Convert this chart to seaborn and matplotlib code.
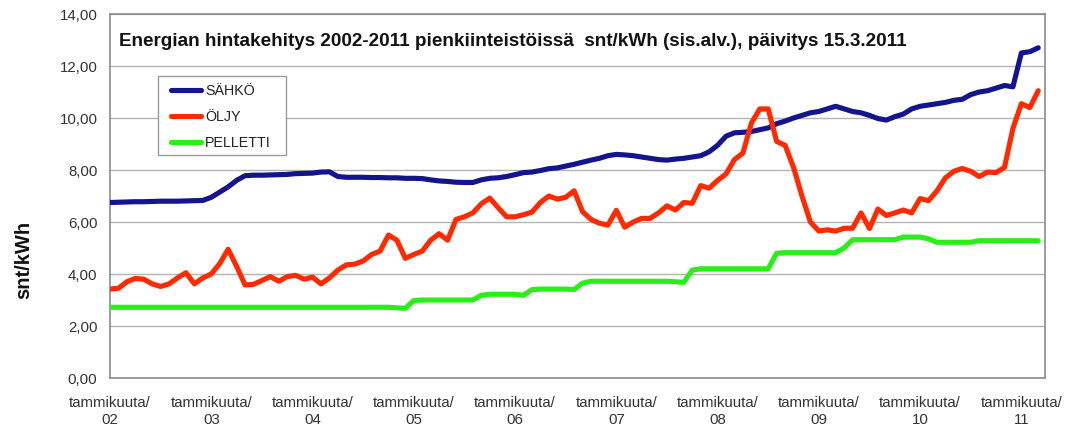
import numpy as np
import pandas as pd
import matplotlib
matplotlib.use("Agg")
import matplotlib.pyplot as plt
from matplotlib.lines import Line2D
from matplotlib.patches import Rectangle
import seaborn as sns

# ---- data (monthly, Jan 2002 .. Mar 2011) ----
sahko = [6.75, 6.76, 6.77, 6.78, 6.78, 6.79, 6.80, 6.80, 6.80, 6.81, 6.82, 6.83,
         6.95, 7.15, 7.35, 7.60, 7.78, 7.80, 7.80, 7.81, 7.82, 7.83, 7.86, 7.87,
         7.88, 7.92, 7.93, 7.75, 7.72, 7.72, 7.72, 7.71, 7.71, 7.70, 7.70, 7.68,
         7.68, 7.67, 7.62, 7.58, 7.56, 7.53, 7.52, 7.52, 7.62, 7.68, 7.70, 7.75,
         7.82, 7.90, 7.92, 7.98, 8.05, 8.08, 8.15, 8.22, 8.30, 8.38, 8.45, 8.55,
         8.60, 8.58, 8.55, 8.50, 8.45, 8.40, 8.38, 8.42, 8.45, 8.50, 8.55, 8.70,
         8.95, 9.30, 9.43, 9.45, 9.48, 9.55, 9.62, 9.78, 9.88, 10.00, 10.10, 10.20,
         10.25, 10.35, 10.45, 10.35, 10.25, 10.20, 10.10, 9.98, 9.92, 10.05, 10.15, 10.35,
         10.45, 10.50, 10.55, 10.60, 10.68, 10.72, 10.90, 11.00, 11.05, 11.15, 11.25, 11.20,
         12.50, 12.55, 12.70]
oljy = [3.42, 3.45, 3.70, 3.83, 3.80, 3.62, 3.52, 3.62, 3.85, 4.05, 3.62, 3.85,
        4.00, 4.40, 4.95, 4.30, 3.58, 3.60, 3.75, 3.90, 3.72, 3.90, 3.95, 3.80,
        3.88, 3.62, 3.85, 4.15, 4.35, 4.38, 4.50, 4.75, 4.88, 5.50, 5.30, 4.60,
        4.75, 4.88, 5.30, 5.55, 5.30, 6.10, 6.20, 6.35, 6.70, 6.92, 6.55, 6.20,
        6.20, 6.28, 6.38, 6.75, 7.00, 6.88, 6.95, 7.20, 6.40, 6.10, 5.95, 5.88,
        6.45, 5.80, 6.00, 6.14, 6.14, 6.35, 6.62, 6.46, 6.75, 6.72, 7.40, 7.30,
        7.60, 7.85, 8.40, 8.65, 9.80, 10.35, 10.35, 9.10, 8.95, 8.10, 7.00, 6.00,
        5.65, 5.70, 5.65, 5.76, 5.76, 6.35, 5.75, 6.50, 6.25, 6.35, 6.46, 6.35,
        6.90, 6.82, 7.20, 7.70, 7.95, 8.06, 7.95, 7.75, 7.92, 7.90, 8.10, 9.60,
        10.55, 10.40, 11.05]
pelletti = [2.72, 2.72, 2.72, 2.72, 2.72, 2.72, 2.72, 2.72, 2.72, 2.72, 2.72, 2.72,
            2.72, 2.72, 2.72, 2.72, 2.72, 2.72, 2.72, 2.72, 2.72, 2.72, 2.72, 2.72,
            2.72, 2.72, 2.72, 2.72, 2.72, 2.72, 2.72, 2.72, 2.72, 2.72, 2.70, 2.68,
            2.98, 3.00, 3.00, 3.00, 3.00, 3.00, 3.00, 3.00, 3.18, 3.22, 3.22, 3.22,
            3.22, 3.18, 3.40, 3.42, 3.42, 3.42, 3.42, 3.40, 3.65, 3.72, 3.72, 3.72,
            3.72, 3.72, 3.72, 3.72, 3.72, 3.72, 3.72, 3.70, 3.68, 4.15, 4.20, 4.20,
            4.20, 4.20, 4.20, 4.20, 4.20, 4.20, 4.20, 4.80, 4.82, 4.82, 4.82, 4.82,
            4.82, 4.82, 4.82, 5.00, 5.32, 5.32, 5.32, 5.32, 5.32, 5.32, 5.42, 5.42,
            5.42, 5.35, 5.22, 5.22, 5.22, 5.22, 5.22, 5.28, 5.28, 5.28, 5.28, 5.28,
            5.28, 5.28, 5.28]
series_names = ["SÄHKÖ", "ÖLJY", "PELLETTI"]
series_colors = ["#14148c", "#ff2a00", "#2aee18"]
year_labels = ["tammikuuta/\n02", "tammikuuta/\n03", "tammikuuta/\n04", "tammikuuta/\n05",
               "tammikuuta/\n06", "tammikuuta/\n07", "tammikuuta/\n08", "tammikuuta/\n09",
               "tammikuuta/\n10", "tammikuuta/\n11"]
title_text = "Energian hintakehitys 2002-2011 pienkiinteistöissä  snt/kWh (sis.alv.), päivitys 15.3.2011"
y_label = "snt/kWh"

# ---- long-form table ----
months = np.arange(len(sahko))
df = pd.concat([
    pd.DataFrame({"kk": months, "arvo": vals, "sarja": name})
    for name, vals in zip(series_names, [sahko, oljy, pelletti])
], ignore_index=True)

sns.set_theme(style="white")
plt.rcParams["font.family"] = ["Liberation Sans", "DejaVu Sans"]

W, H = 1070, 430
fig = plt.figure(figsize=(W / 100, H / 100), dpi=100)
L, R, T, B = 110, 1045, 14, 378
ax = fig.add_axes([L / W, 1 - B / H, (R - L) / W, (B - T) / H])


def ax_frac(px, py):
    return (px - L) / (R - L), (B - py) / (B - T)


lw = 3.7
sns.lineplot(data=df, x="kk", y="arvo", hue="sarja", hue_order=series_names,
             palette=dict(zip(series_names, series_colors)), linewidth=lw,
             ax=ax, legend=False, solid_joinstyle="round", solid_capstyle="round",
             zorder=3)

ax.set_xlim(0, 110.8)
ax.set_ylim(0, 14)
ax.set_yticks(np.arange(0, 15, 2))
ax.set_yticklabels([f"{v:.2f}".replace(".", ",") for v in np.arange(0, 15, 2)])
ax.set_xticks(np.arange(0, 109, 12))
ax.set_xticklabels(year_labels, linespacing=1.3)
ax.grid(axis="y", color="#b4b4b4", linewidth=1.0, zorder=0)
ax.grid(axis="x", visible=False)
for s in ax.spines.values():
    s.set_color("#8c8c8c")
    s.set_linewidth(1.2)
ax.tick_params(axis="both", which="major", direction="out", length=5, width=1,
               color="#8c8c8c", labelsize=10.8, labelcolor="#333333")
ax.tick_params(axis="x", pad=8)
ax.tick_params(axis="y", pad=4)
ax.set_xlabel("")
ax.set_ylabel("")
fig.text(24 / W, 1 - 260 / H, y_label, rotation=90, ha="center", va="center",
         fontsize=14.5, fontweight="bold", color="#111111")

tx, ty = ax_frac(119, 42)
ax.text(tx, ty, title_text, transform=ax.transAxes,
        fontsize=13.6, fontweight="bold", color="#111111", va="center", ha="left")

# legend box (frame drawn as a patch) and legend entries
bx0, by0 = ax_frac(158, 155)
bx1, by1 = ax_frac(286, 76)
ax.add_patch(Rectangle((bx0, by0), bx1 - bx0, by1 - by0, transform=ax.transAxes,
                       facecolor="white", edgecolor="#9a9a9a", linewidth=1.0, zorder=4))
handles = [Line2D([0], [0], color=c, linewidth=lw) for c in series_colors]
lx, ly = ax_frac(171, 84)
leg = ax.legend(handles, series_names, loc="upper left", bbox_to_anchor=(lx, ly),
                borderaxespad=0, frameon=False, fontsize=10.3,
                handlelength=2.1, handletextpad=0.3, labelspacing=0.85,
                borderpad=0)
leg.set_zorder(5)
for t in leg.get_texts():
    t.set_color("#222222")

fig.savefig("out.png", dpi=100)
